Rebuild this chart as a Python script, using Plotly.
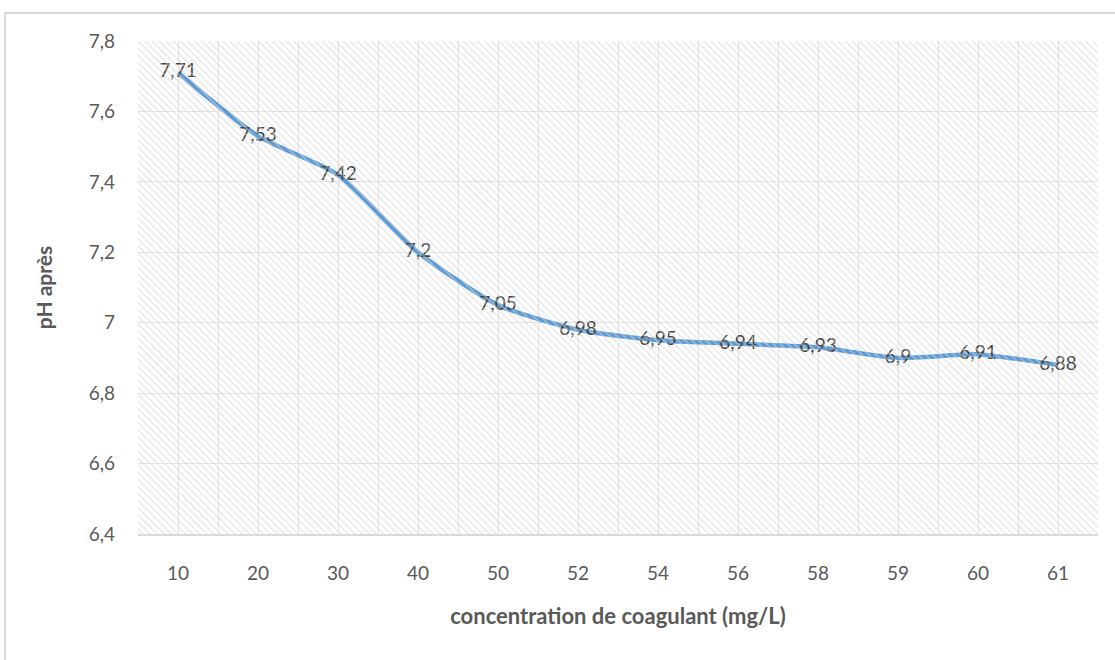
import plotly.graph_objects as go

# Données : pH après coagulation selon la concentration de coagulant
concentrations = ["10", "20", "30", "40", "50", "52", "54", "56", "58", "59", "60", "61"]
ph_apres = [7.71, 7.53, 7.42, 7.2, 7.05, 6.98, 6.95, 6.94, 6.93, 6.9, 6.91, 6.88]
y_ticks = [6.4, 6.6, 6.8, 7.0, 7.2, 7.4, 7.6, 7.8]

labels = [str(v).replace(".", ",") for v in ph_apres]
idx = list(range(len(concentrations)))

GRID = "#e3e3e3"
TXT = "#595959"
FONT = "Lato"

fig = go.Figure()

# fond hachuré de la zone de tracé (axe secondaire 0..1)
fig.add_trace(go.Scatter(
    x=[0, 1, 1, 0, 0], y=[0, 0, 1, 1, 0],
    xaxis="x2", yaxis="y2",
    mode="lines", line=dict(width=0),
    fill="toself", fillcolor="rgba(0,0,0,0)",
    fillpattern=dict(shape="\\", fgcolor="#d6d6d6", bgcolor="rgba(0,0,0,0)",
                     size=5, solidity=0.35),
    hoverinfo="skip", showlegend=False,
))

fig.add_trace(go.Scatter(
    x=idx, y=ph_apres,
    mode="lines+text",
    line=dict(color="#5b9bd5", width=4.5, shape="spline", smoothing=0.6),
    text=labels, textposition="middle center",
    textfont=dict(family=FONT, size=19, color="#404040"),
    showlegend=False,
))

fig.update_layout(
    width=1115, height=660,
    margin=dict(l=138, r=17, t=41, b=126),
    paper_bgcolor="white", plot_bgcolor="white",
    separators=", ",
    font=dict(family=FONT, color=TXT),
    xaxis=dict(
        range=[-0.5, len(concentrations) - 0.5],
        tickmode="array", tickvals=idx, ticktext=concentrations,
        showgrid=True, gridcolor=GRID, gridwidth=1,
        minor=dict(tick0=-0.5, dtick=1, showgrid=True, gridcolor=GRID, gridwidth=1),
        ticks="", zeroline=False,
        showline=True, linecolor="#d9d9d9", linewidth=2,
        tickfont=dict(family=FONT, size=19, color=TXT),
        ticklabelstandoff=21,
        title=dict(text="<b>concentration de coagulant (mg/L)</b>", standoff=26,
                   font=dict(family=FONT, size=22, color=TXT)),
    ),
    yaxis=dict(
        range=[6.4, 7.8], tickvals=y_ticks,
        showgrid=True, gridcolor=GRID, gridwidth=1,
        ticks="", zeroline=False, showline=False,
        tickfont=dict(family=FONT, size=19, color=TXT),
        ticklabelstandoff=22,
        title=dict(text="<b>pH après</b>", standoff=30,
                   font=dict(family=FONT, size=21, color=TXT)),
    ),
    xaxis2=dict(overlaying="x", range=[0, 1], visible=False, fixedrange=True),
    yaxis2=dict(overlaying="y", range=[0, 1], visible=False, fixedrange=True),
)

# cadre extérieur du graphique
fig.add_shape(type="rect", xref="paper", yref="paper",
              x0=(5 - 138) / 960, x1=(1125 - 138) / 960,
              y0=(534 - 680) / 493, y1=(534 - 13) / 493,
              line=dict(color="#d9d9d9", width=2), layer="below")

# pas de marge autour du graphique dans la page, pas de barre d'outils
fig.write_html("out.html", config={"displayModeBar": False},
               post_script="document.body.style.margin='0px';")
